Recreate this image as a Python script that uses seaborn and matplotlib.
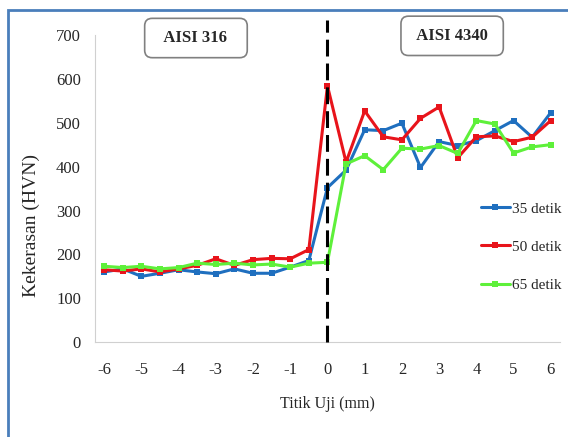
import numpy as np
import pandas as pd
import matplotlib
matplotlib.use("Agg")
import matplotlib.pyplot as plt
import seaborn as sns
from matplotlib.patches import Rectangle

# titik uji (mm)
titik = [-6, -5.5, -5, -4.5, -4, -3.5, -3, -2.5, -2, -1.5, -1, -0.5, 0,
         0.5, 1, 1.5, 2, 2.5, 3, 3.5, 4, 4.5, 5, 5.5, 6]

# kekerasan (HVN) per waktu
hvn_35 = [160, 167, 150, 157, 165, 160, 156, 167, 157, 157, 171, 186, 352,
          392, 484, 482, 499, 398, 457, 448, 459, 482, 505, 467, 523]
hvn_50 = [165, 162, 167, 160, 167, 175, 190, 175, 188, 191, 190, 211, 584,
          410, 527, 468, 461, 510, 536, 420, 468, 470, 457, 467, 505]
hvn_65 = [173, 170, 173, 167, 170, 180, 177, 180, 176, 178, 171, 180, 182,
          406, 425, 393, 442, 440, 448, 430, 505, 497, 431, 445, 450]

series_names = ["35 detik", "50 detik", "65 detik"]
colors = ["#1f6fbf", "#e8141b", "#5ef03a"]

df = pd.DataFrame({
    "Titik": titik * 3,
    "HVN": hvn_35 + hvn_50 + hvn_65,
    "Waktu": np.repeat(series_names, len(titik)),
})

sns.set_style("white")
plt.rcParams["font.family"] = ["Liberation Serif", "DejaVu Serif"]
plt.rcParams["axes.unicode_minus"] = False

fig = plt.figure(figsize=(5.68, 4.37), dpi=100)
ax = fig.add_axes([0.167, 0.217, 0.819, 0.703])

sns.lineplot(data=df, x="Titik", y="HVN", hue="Waktu", palette=colors,
             marker="s", markersize=4, markeredgewidth=0, linewidth=2.2,
             ax=ax)

# garis batas las
ax.axvline(0, ymin=0, ymax=1.05, color="black", linestyle=(0, (5.5, 2.3)),
           linewidth=2.2, zorder=5, clip_on=False)

ax.set_xlim(-6.25, 6.25)
ax.set_ylim(0, 700)
ax.set_xticks(range(-6, 7))
ax.set_yticks(range(0, 701, 100))
ax.tick_params(axis="both", labelsize=12, length=0)
ax.tick_params(axis="x", pad=14)
ax.tick_params(axis="y", pad=10)
ax.set_xlabel("Titik Uji (mm)", fontsize=11.5, labelpad=13)
ax.set_ylabel("Kekerasan (HVN)", fontsize=14)
ax.yaxis.set_label_coords(-0.118, 0.38)

for s in ["top", "right"]:
    ax.spines[s].set_visible(False)
for s in ["left", "bottom"]:
    ax.spines[s].set_color("#d0d0d0")

ax.legend(loc="center left", bbox_to_anchor=(0.83, 0.31), frameon=False,
          fontsize=11, handlelength=1.9, handletextpad=0.1, labelspacing=1.6,
          borderaxespad=0, borderpad=0)

box = dict(boxstyle="round,pad=0.7,rounding_size=0.45", fc="white",
           ec="#808080", lw=1.2)
fig.text(0.345, 0.913, "  AISI 316  ", fontsize=12, fontweight="bold",
         ha="center", va="center", bbox=box)
fig.text(0.796, 0.918, " AISI 4340 ", fontsize=12, fontweight="bold",
         ha="center", va="center", bbox=box)

# bingkai biru
fig.patches.append(Rectangle((8 / 568, -0.1), 1.2, 1 - 10 / 437 + 0.1,
                             transform=fig.transFigure, fill=False,
                             ec="#4a7ebb", lw=2))

fig.savefig("out.png", dpi=100)
